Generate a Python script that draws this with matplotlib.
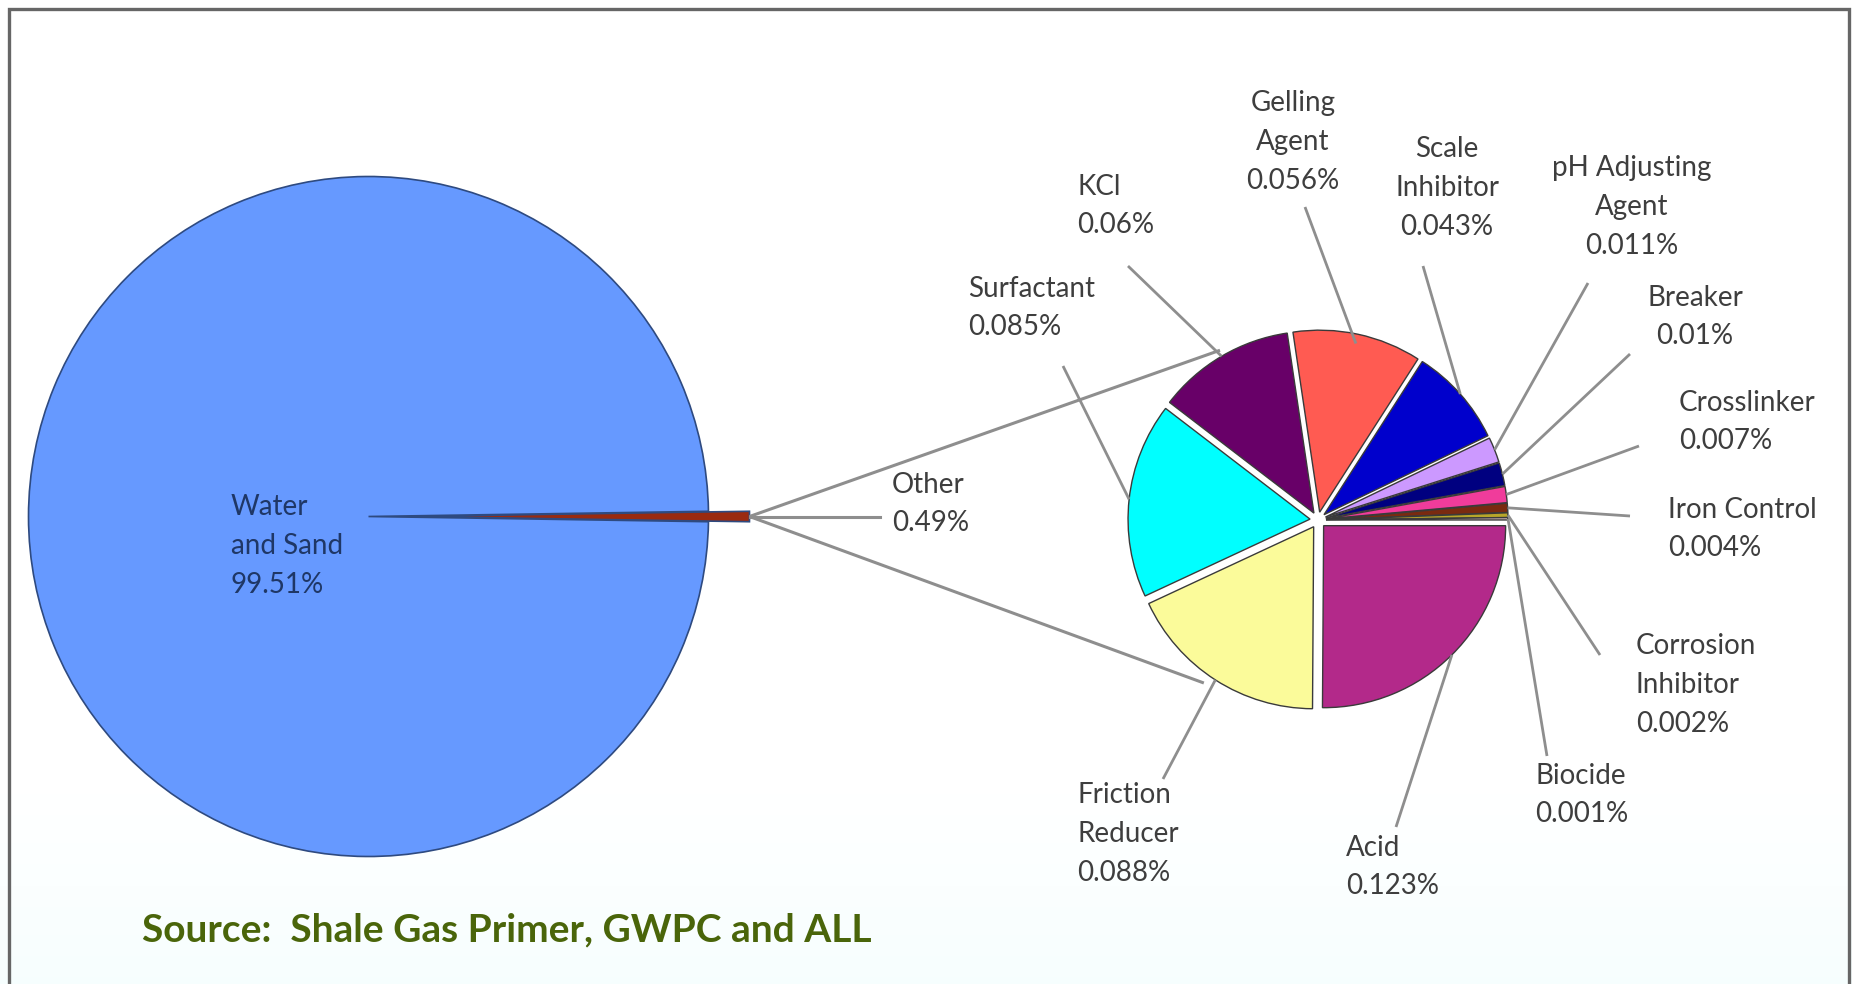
import numpy as np
import matplotlib
matplotlib.use("Agg")
import matplotlib.pyplot as plt
from matplotlib.patches import Rectangle

# ---------------- data ----------------
main_labels = ["Other", "Water\nand Sand"]
main_values = [0.49, 99.51]

sub_labels = ["Acid", "Friction\nReducer", "Surfactant", "KCl", "Gelling\nAgent",
              "Scale\nInhibitor", "pH Adjusting\nAgent", "Breaker", "Crosslinker",
              "Iron Control", "Corrosion\nInhibitor", "Biocide"]
sub_values = [0.123, 0.088, 0.085, 0.060, 0.056, 0.043, 0.011, 0.010, 0.007,
              0.004, 0.002, 0.001]
sub_text = ["0.123%", "0.088%", "0.085%", "0.06%", "0.056%", "0.043%", "0.011%",
            "0.01%", "0.007%", "0.004%", "0.002%", "0.001%"]
sub_colors = ["#B3298A", "#FBFB9A", "#00FFFF", "#680068", "#FF5B52", "#0000CC",
              "#CC99FF", "#000080", "#F03C9B", "#7A2A10", "#B8A62A", "#E6C8C8"]

source_text = "Source:  Shale Gas Primer, GWPC and ALL"

# ---------------- layout ----------------
W, H = 1852, 984
DPI = 100
FONT = ["Lato", "DejaVu Sans"]
LBL_COLOR = "#3E3E3E"
LEAD_COLOR = "#8E8E8E"


def Y(y):  # pixel-from-top -> data y (up)
    return H - y


fig = plt.figure(figsize=(W / DPI, H / DPI), dpi=DPI)
fig.patch.set_facecolor("white")
ax = fig.add_axes([0, 0, 1, 1])

# faint cyan tint at bottom
for i, y0 in enumerate(np.linspace(780, 984, 30)):
    t = i / 29
    c = (1 - 0.035 * t, 1 - 0.004 * t, 1 - 0.004 * t)
    ax.add_patch(Rectangle((0, Y(984)), W, Y(y0) - Y(984), facecolor=c,
                           edgecolor="none", zorder=0))

# big pie
big_c = (368.5, Y(516.5))
big_r = 340
big_ex = 41
start_big = main_values[0] / sum(main_values) * 360 / 2
ax.pie(main_values, colors=["#9A2A10", "#6699FF"], startangle=start_big,
       counterclock=False, explode=[big_ex, 0], center=big_c, radius=big_r,
       wedgeprops=dict(edgecolor="#2E4A80", linewidth=1.2), frame=True)

# small pie
sm_c = (1318, Y(520))
sm_r = 182
sm_ex = 8
ax.pie(sub_values, colors=sub_colors, startangle=0, counterclock=False,
       explode=[sm_ex] * len(sub_values), center=sm_c, radius=sm_r,
       wedgeprops=dict(edgecolor="#3A3A3A", linewidth=1.0), frame=True)

# connector lines from Other wedge to small pie
tip = (big_c[0] + big_r + big_ex, big_c[1])
for ang, rr in [(120, 196), (235, 199)]:
    a = np.deg2rad(ang)
    ax.plot([tip[0], sm_c[0] + rr * np.cos(a)], [tip[1], sm_c[1] + rr * np.sin(a)],
            color=LEAD_COLOR, lw=2.2, zorder=1, solid_capstyle="butt")
ax.plot([tip[0], 880], [tip[1], tip[1]], color=LEAD_COLOR, lw=2.2, zorder=1)

fs = 20
LS = 1.6
ax.text(892, Y(504), "Other\n" + "0.49%", ha="left", va="center", fontsize=fs,
        color=LBL_COLOR, family=FONT, linespacing=LS)
ax.text(231, Y(546), "Water\nand Sand\n99.51%", ha="left", va="center", fontsize=fs,
        color="#1F3766", family=FONT, linespacing=LS)

# label positions (centre of text block, pixels from top-left) and leader outer ends
lab_pos = [(1346, 867, "left"), (1077, 834, "left"), (968, 308, "left"),
           (1077, 206, "left"), (1293, 142, "center"), (1447, 188, "center"),
           (1632, 207, "center"), (1695, 317, "center"), (1679, 422, "left"),
           (1668, 529, "left"), (1636, 685, "left"), (1535, 795, "left")]
lead_end = [(1396, 827), (1163, 779), (1063, 366), (1128, 266), (1305, 207),
            (1423, 266), (1588, 283), (1630, 354), (1639, 446), (1630, 516),
            (1600, 655), (1547, 756)]
lead_k = [1.0, 1.0, 1.0, 1.0, 0.95, 1.0, 1.0, 1.0, 1.0, 1.0, 1.0, 1.0]

total = sum(sub_values)
cum = 0.0
for i, v in enumerate(sub_values):
    mid = -(cum + v / 2) / total * 360
    cum += v
    a = np.deg2rad(mid)
    rr = (sm_r + sm_ex) * lead_k[i]
    ax0, ay0 = sm_c[0] + rr * np.cos(a), sm_c[1] + rr * np.sin(a)
    ex, ey = lead_end[i]
    ax.plot([ax0, ex], [ay0, Y(ey)], color=LEAD_COLOR, lw=2.0, zorder=3,
            solid_capstyle="butt")
    x, y, ha = lab_pos[i]
    ax.text(x, Y(y), sub_labels[i] + "\n" + sub_text[i], ha=ha, va="center",
            fontsize=fs, color=LBL_COLOR, family=FONT, linespacing=LS,
            multialignment=ha)

# source note
ax.text(142, Y(930), source_text, ha="left", va="center", fontsize=28,
        fontweight="bold", color="#4A650A", family=FONT)

# frame border
ax.plot([9, 9, 1849, 1849], [Y(984), Y(9), Y(9), Y(984)], color="#666666",
        lw=2.4, zorder=10, solid_joinstyle="miter")

ax.set_xlim(0, W)
ax.set_ylim(0, H)
ax.set_aspect("auto")
ax.axis("off")

fig.savefig("out.png", dpi=DPI, facecolor=fig.get_facecolor())
